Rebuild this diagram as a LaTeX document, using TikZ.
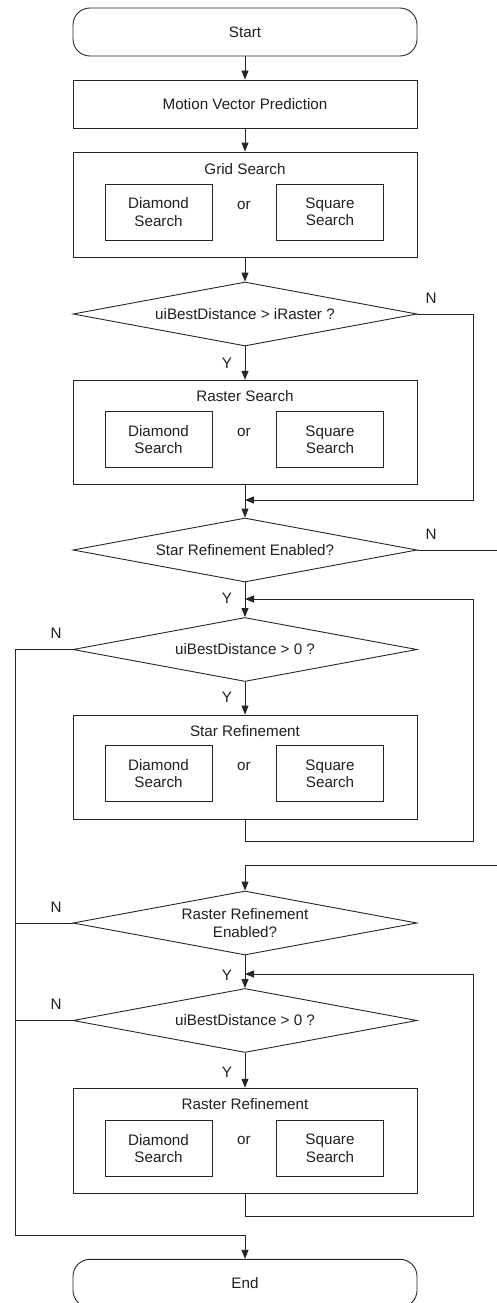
\documentclass[tikz,border=0pt]{standalone}
\usepackage{fontspec}
\setmainfont{Liberation Sans}
\usetikzlibrary{shapes.geometric,arrows.meta}
\begin{document}
\begin{tikzpicture}[x=1pt,y=-1pt,
  every node/.style={font=\fontsize{15.2}{17.3}\selectfont, text=black!88},
  line/.style={draw=black!85, line width=0.9pt},
  arr/.style={line, -{Triangle[length=9pt,width=7pt]}},
  terminal/.style={line, rounded corners=17pt, minimum width=344pt, minimum height=48pt, inner sep=0},
  proc/.style={line, minimum width=344pt, inner sep=0},
  sub/.style={line, minimum width=107pt, minimum height=56pt, inner sep=0, align=center},
  decision/.style={line, diamond, aspect=5.3, minimum width=344pt, minimum height=64pt, inner sep=0, align=center},
  lbl/.style={inner sep=0}]
\clip (0,0) rectangle (497,1303);

% nodes
\node[terminal] (start) at (245,32) {Start};
\node[proc, minimum height=48pt] (mvp) at (245,104) {Motion Vector Prediction};

\node[proc, minimum height=105pt] (grid) at (245,204.5) {};
\node[lbl] (gridt) at (245,169) {Grid Search};
\node[sub] (grida) at (158.5,212) {Diamond\\Search};
\node[lbl] (grido) at (244,205) {or};
\node[sub] (gridb) at (330,212) {Square\\Search};

\node[decision] (d1) at (245,314) {uiBestDistance > iRaster ?};

\node[proc, minimum height=104.4pt] (raster) at (245,432.5) {};
\node[lbl] (rastert) at (245,396) {Raster Search};
\node[sub] (rastera) at (158.5,439.7) {Diamond\\Search};
\node[lbl] (rastero) at (244,432.5) {or};
\node[sub] (rasterb) at (330,439.7) {Square\\Search};

\node[decision] (d2) at (245,550) {Star Refinement Enabled?};
\node[decision] (d3) at (245,649.5) {uiBestDistance > 0 ?};

\node[proc, minimum height=104pt] (star) at (245,767) {};
\node[lbl] (start2) at (245,730.7) {Star Refinement};
\node[sub] (stara) at (158.5,773.8) {Diamond\\Search};
\node[lbl] (staro) at (244,766.7) {or};
\node[sub] (starb) at (330,773.8) {Square\\Search};

\node[decision] (d4) at (245,923) {Raster Refinement\\Enabled?};
\node[decision] (d5) at (245,1020.5) {uiBestDistance > 0 ?};

\node[proc, minimum height=105pt] (rr) at (245,1140.7) {};
\node[lbl] (rrt) at (245,1104.3) {Raster Refinement};
\node[sub] (rra) at (158.5,1148.3) {Diamond\\Search};
\node[lbl] (rro) at (244,1140.7) {or};
\node[sub] (rrb) at (330,1148.3) {Square\\Search};

\node[terminal] (end) at (245,1283.3) {End};

% labels
\node[lbl] (y1) at (227,363) {Y};
\node[lbl] (y2) at (227,598) {Y};
\node[lbl] (y3) at (227,697) {Y};
\node[lbl] (y4) at (227,975) {Y};
\node[lbl] (y5) at (227,1072) {Y};
\node[lbl] (n1) at (431,298) {N};
\node[lbl] (n2) at (431,534) {N};
\node[lbl] (n3) at (56,633) {N};
\node[lbl] (n4) at (56,907) {N};
\node[lbl] (n5) at (56,1004) {N};

% helper coordinates
\coordinate (rx) at (473.7,0);
\coordinate (lx) at (15.7,0);
\coordinate (m1) at (245,500);
\coordinate (m3) at (245,599);
\coordinate (m5) at (245,974);
\coordinate (m6) at (245,1235);
\coordinate (e2) at (500,550);
\coordinate (e4) at (500,865.7);
\coordinate (b3) at (245,841.7);
\coordinate (b5) at (245,1216.7);

% straight connectors
\draw[arr] (start.south) -- (mvp.north);
\draw[arr] (mvp.south) -- (grid.north);
\draw[arr] (grid.south) -- (d1.north);
\draw[arr] (d1.south) -- (raster.north);
\draw[arr] (raster.south) -- (d2.north);
\draw[arr] (d2.south) -- (d3.north);
\draw[arr] (d3.south) -- (star.north);
\draw[arr] (d4.south) -- (d5.north);
\draw[arr] (d5.south) -- (rr.north);

% N branch of d1
\draw[arr] (d1.east) -- (rx |- d1.east) -- (rx |- m1) -- (m1);
% N branch of d2 (leaves picture)
\draw[line] (d2.east) -- (e2);
% line entering d4 from the right
\draw[arr] (e4) -- (d4.north |- e4) -- (d4.north);
% star refinement loop
\draw[arr] (star.south) -- (b3) -- (rx |- b3) -- (rx |- m3) -- (m3);
% raster refinement loop
\draw[arr] (rr.south) -- (b5) -- (rx |- b5) -- (rx |- m5) -- (m5);
% left N branches to End
\draw[arr] (d3.west) -- (lx |- d3.west) -- (lx |- m6) -- (m6) -- (end.north);
\draw[line] (d4.west) -- (lx |- d4.west);
\draw[line] (d5.west) -- (lx |- d5.west);
\end{tikzpicture}
\end{document}
